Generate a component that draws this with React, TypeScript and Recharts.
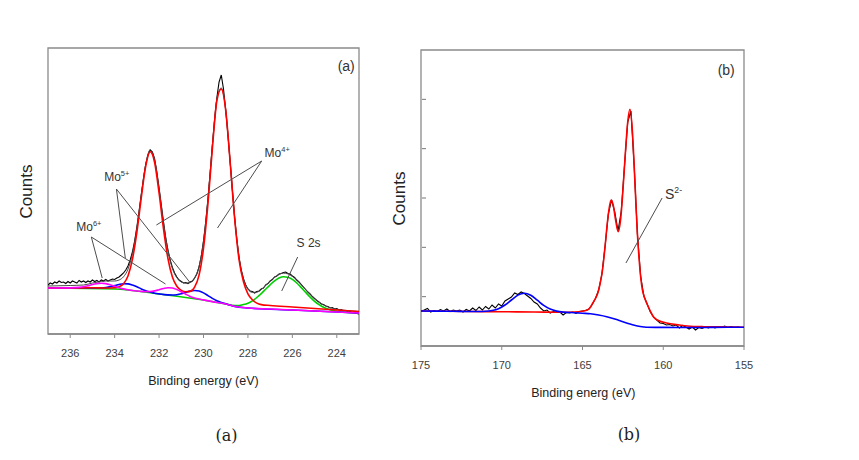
import React from 'react';
import { LineChart, Line, XAxis, YAxis, ReferenceArea, ReferenceLine, ReferenceDot } from 'recharts';

// ---------- Panel (a): Mo 3d region ----------
const xTicksA = [224, 226, 228, 230, 232, 234, 236];

const rawAEnergy = [
  237.0, 236.9, 236.8, 236.7, 236.6, 236.5, 236.4, 236.3, 236.2, 236.1,
  236.0, 235.9, 235.8, 235.7, 235.6, 235.5, 235.4, 235.3, 235.2, 235.1,
  235.0, 234.9, 234.8, 234.7, 234.6, 234.5, 234.4, 234.3, 234.2, 234.1,
  234.0, 233.9, 233.8, 233.7, 233.6, 233.5, 233.4, 233.3, 233.2, 233.1,
  233.0, 232.9, 232.8, 232.7, 232.6, 232.5, 232.4, 232.3, 232.2, 232.1,
  232.0, 231.9, 231.8, 231.7, 231.6, 231.5, 231.4, 231.3, 231.2, 231.1,
  231.0, 230.9, 230.8, 230.7, 230.6, 230.5, 230.4, 230.3, 230.2, 230.1,
  230.0, 229.9, 229.8, 229.7, 229.6, 229.5, 229.4, 229.3, 229.2, 229.1,
  229.0, 228.9, 228.8, 228.7, 228.6, 228.5, 228.4, 228.3, 228.2, 228.1,
  228.0, 227.9, 227.8, 227.7, 227.6, 227.5, 227.4, 227.3, 227.2, 227.1,
  227.0, 226.9, 226.8, 226.7, 226.6, 226.5, 226.4, 226.3, 226.2, 226.1,
  226.0, 225.9, 225.8, 225.7, 225.6, 225.5, 225.4, 225.3, 225.2, 225.1,
  225.0, 224.9, 224.8, 224.7, 224.6, 224.5, 224.4, 224.3, 224.2, 224.1,
  224.0, 223.9, 223.8, 223.7, 223.6, 223.5, 223.4, 223.3, 223.2, 223.1,
  223.0,
];
const rawACounts = [
  49, 51, 50, 52, 51, 53, 51.5, 52, 50.5, 52.5,
  51, 53, 52, 51, 53.5, 52, 53, 51.5, 53, 52,
  54, 52.5, 53.5, 52, 54, 53, 54.5, 53, 54, 55,
  54.5, 56, 57, 59, 61, 64, 68, 74, 82, 93,
  107, 123, 140, 156, 170, 179, 184, 182, 175, 162,
  146, 129, 112, 96, 84, 74, 66.5, 61, 57, 54,
  52.5, 51, 51.5, 50.5, 52, 53, 56, 60, 67, 78,
  93, 112, 135, 161, 189, 214, 236, 252, 259, 245,
  224, 199, 172, 144, 117, 95, 77, 64, 55, 49,
  45, 43, 42.5, 41, 42.5, 43, 45, 46, 49, 50.5,
  53, 54.5, 57, 58, 60, 60.5, 61.5, 62, 60.5, 60,
  58, 56.5, 54, 52, 49.5, 47, 44.5, 42, 40, 37.5,
  35.5, 33.5, 32, 30, 29.5, 28, 27.5, 26, 26.5, 25,
  25.5, 24, 24.5, 23, 23.5, 22, 22.5, 21.5, 21, 20.5,
  20,
];

const fitAEnergy = [
  237, 236, 235.4, 235.0, 234.6, 234.4, 234.2, 234.0, 233.8, 233.6,
  233.4, 233.2, 233.0, 232.8, 232.6, 232.4, 232.2, 232.0, 231.8, 231.6,
  231.4, 231.2, 231.0, 230.8, 230.6, 230.4, 230.2, 230.0, 229.8, 229.6,
  229.4, 229.2, 229.0, 228.8, 228.6, 228.4, 228.2, 228.0, 227.8, 227.6,
  227.4, 227.2, 227.0, 226.8, 226.6, 226.4, 226.2, 226.0, 225.8, 225.6,
  225.4, 225.2, 225.0, 224.8, 224.6, 224.4, 224.2, 224.0, 223.6, 223.0,
];
const fitACounts = [
  48, 48.5, 49, 51, 52.5, 53, 53, 53, 54, 57.2,
  64.8, 80.2, 105.8, 139.2, 169.9, 184.2, 174.1, 145.5, 111.3, 83.3,
  65.6, 56.3, 52, 50.8, 51.5, 56, 67.6, 92.8, 135.3, 189,
  234.7, 246, 224, 171.9, 117, 76.1, 55.2, 45, 41.6, 41.8,
  44.4, 48.6, 52.7, 56.6, 59.6, 60.8, 60.1, 57.6, 53.9, 49.2,
  44.3, 39.5, 35.2, 31.8, 29.1, 27.1, 25.7, 24.7, 23.6, 22.5,
];

const mo4Energy = [
  237, 236, 235, 234.5, 234.0, 233.8, 233.6, 233.4, 233.2, 233.0,
  232.8, 232.6, 232.4, 232.2, 232.0, 231.8, 231.6, 231.4, 231.2, 231.0,
  230.8, 230.6, 230.4, 230.2, 230.0, 229.8, 229.6, 229.4, 229.2, 229.0,
  228.8, 228.6, 228.4, 228.2, 228.0, 227.8, 227.6, 227.4, 227.0, 226.0,
  225.0, 224.0, 223.0,
];
const mo4Counts = [
  46, 46, 46.2, 46, 46.3, 47.3, 50.3, 58.1, 74.6, 101.6,
  136.3, 167.8, 182.2, 171.4, 141.1, 105.1, 75.5, 57, 47.7, 43.6,
  42.2, 42.6, 46.8, 58.9, 85.6, 130.1, 185.8, 233, 245, 223.7,
  171.8, 116.1, 74.4, 52.2, 40.2, 34.2, 30.9, 29.4, 28.5, 27,
  25.5, 24, 22.5,
];

const mo5Energy = [
  237, 235, 234.5, 234.2, 234.0, 233.8, 233.6, 233.4, 233.2, 233.0,
  232.8, 232.6, 232.4, 232.2, 232.0, 231.6, 231.4, 231.2, 231.0, 230.8,
  230.6, 230.4, 230.2, 230.0, 229.8, 229.6, 229.4, 229.2, 229.0, 228.8,
  228.6, 228.0, 226, 224, 223,
];
const mo5Counts = [
  46, 46, 46.2, 47.3, 48.4, 49.5, 50.2, 50.1, 48.9, 47.2,
  45.1, 43.3, 41.9, 40.8, 40.1, 39.1, 39, 39.3, 40.2, 41.6,
  42.9, 43.5, 42.9, 41.1, 38.4, 35.6, 33.3, 31.6, 30.3, 28.9,
  27.6, 26, 24, 22, 21,
];

const mo6Energy = [
  237, 236, 235.6, 235.4, 235.2, 235.0, 234.8, 234.6, 234.4, 234.2,
  234.0, 233.8, 233.6, 233.4, 233.2, 233.0, 232.8, 232.6, 232.4, 232.2,
  232.0, 231.8, 231.6, 231.4, 231.2, 231.0, 230.8, 230.6, 230.4, 230.2,
  230.0, 229.6, 229.0, 228.5, 228.0, 227.0, 226.0, 225.0, 224.0, 223.0,
];
const mo6Counts = [
  46, 46.1, 46.6, 47.2, 48.2, 49.5, 50.4, 50.8, 50.4, 49.3,
  47.8, 46.3, 45.1, 44.2, 43.5, 43, 42.6, 42.4, 42.5, 43.1,
  44.3, 45.5, 46.3, 46, 44.5, 42.2, 39.8, 37.6, 36.1, 35,
  34.1, 32.4, 30, 27.2, 26, 25, 24, 23, 22, 21,
];

const s2sEnergy = [
  237, 234, 232, 230, 229, 228.6, 228.4, 228.2, 228.0, 227.8,
  227.6, 227.4, 227.2, 227.0, 226.8, 226.6, 226.4, 226.2, 226.0, 225.8,
  225.6, 225.4, 225.2, 225.0, 224.8, 224.6, 224.4, 224.2, 224.0, 223.6,
  223.0,
];
const s2sCounts = [
  46, 45, 40, 34, 30, 28.5, 28.5, 29.4, 30.8, 33.2,
  36.5, 40.4, 44.8, 49.2, 53.1, 56, 57.3, 56.8, 54.6, 51,
  46.4, 41.6, 36.9, 32.7, 29.4, 26.8, 24.9, 23.6, 22.7, 21.8,
  21,
];

// ---------- Panel (b): S 2p region ----------
const xTicksB = [155, 160, 165, 170, 175];
const yTicksB = [49.33, 98.67, 148, 197.33, 246.67];

const rawBEnergy = [
  175.0, 174.8, 174.6, 174.4, 174.2, 174.0, 173.8, 173.6, 173.4, 173.2,
  173.0, 172.8, 172.6, 172.4, 172.2, 172.0, 171.8, 171.6, 171.4, 171.2,
  171.0, 170.8, 170.6, 170.4, 170.2, 170.0, 169.8, 169.6, 169.4, 169.2,
  169.0, 168.8, 168.6, 168.4, 168.2, 168.0, 167.8, 167.6, 167.4, 167.2,
  167.0, 166.8, 166.6, 166.4, 166.2, 166.0, 165.8, 165.6, 165.4, 165.2,
  165.0, 164.8, 164.6, 164.4, 164.2, 164.0, 163.8, 163.6, 163.4, 163.2,
  163.0, 162.8, 162.6, 162.4, 162.2, 162.0, 161.8, 161.6, 161.4, 161.2,
  161.0, 160.8, 160.6, 160.4, 160.2, 160.0, 159.8, 159.6, 159.4, 159.2,
  159.0, 158.8, 158.6, 158.4, 158.2, 158.0, 157.8, 157.6, 157.4, 157.2,
  157.0, 156.8, 156.6, 156.4, 156.2, 156.0, 155.8, 155.6, 155.4, 155.2,
  155.0,
];
const rawBCounts = [
  35, 36, 37.5, 34, 35.5, 34.5, 36.5, 35, 37, 34.5,
  36, 35, 36, 34, 36.5, 35, 38, 35.5, 39, 36,
  39.5, 37, 41, 38, 42, 40, 45, 47, 49, 53,
  51.5, 54, 52.5, 50, 47.5, 44, 42, 38, 35, 36,
  33, 34.5, 33.5, 34, 31, 33.5, 33, 34, 32.5, 34.5,
  35, 35.5, 37, 41.5, 47.5, 56, 72, 100, 132, 146,
  134, 115, 135, 180, 224, 235, 180, 112, 70, 50,
  42, 34, 29, 26, 23, 22.5, 21, 21.5, 20, 21,
  18, 20.5, 19, 17, 19, 16, 18.5, 17.5, 19, 18,
  19.5, 18, 19, 18.5, 20, 18.5, 19.5, 18.5, 19, 18.5,
  18.5,
];

const s2pEnergy = [
  175, 172, 170, 168, 166.4, 165.5, 165.0, 164.7, 164.5, 164.36,
  164.2, 164.05, 163.9, 163.76, 163.6, 163.45, 163.3, 163.22, 163.1, 162.95,
  162.79, 162.65, 162.5, 162.35, 162.2, 162.06, 161.9, 161.8, 161.7, 161.6,
  161.5, 161.44, 161.3, 161.15, 161.0, 160.8, 160.6, 160.3, 159.8, 159.0,
  158.5, 157.5, 156, 155,
];
const s2pCounts = [
  35, 34.5, 34.3, 34, 33.8, 34, 34.8, 36, 39, 43,
  47.5, 53, 63, 76, 100, 125, 142, 146, 141, 126,
  114.3, 125, 155, 192, 224, 236.7, 212, 180, 145, 112,
  88, 76, 57, 48, 42, 35, 29, 25.5, 23, 21,
  20, 19.3, 19, 18.8,
];

const sulfEnergy = [
  175, 173, 172, 171.5, 171, 170.6, 170.2, 169.8, 169.4, 169.0,
  168.6, 168.2, 167.8, 167.4, 167.0, 166.6, 166.2, 165.5, 165, 164.5,
  164, 163.5, 163, 162.5, 162, 161.6, 161.2, 161, 160.5, 160,
  158, 157, 155,
];
const sulfCounts = [
  35, 34.7, 34.5, 34.5, 34.7, 35.5, 37.3, 41, 46, 50.9,
  52.8, 50.7, 45.8, 40.6, 36.9, 34.9, 33.9, 33.3, 32.8, 32.3,
  31, 29.3, 27, 24.3, 21.8, 20, 19, 18.7, 18.6, 18.6,
  18.5, 18.6, 18.8,
];

// ---------- Annotations (data coordinates) ----------
const labelsA = [
  { text: 'Mo', sup: '4+', e: 227.25, c: 177 },
  { text: 'Mo', sup: '5+', e: 234.47, c: 153 },
  { text: 'Mo', sup: '6+', e: 235.73, c: 103 },
  { text: 'S 2s', sup: '', e: 225.81, c: 87 },
];
const leadersA = [
  [227.38, 173, 232.12, 109],
  [227.38, 173, 229.37, 106],
  [233.92, 145, 233.52, 76],
  [233.92, 145, 230.59, 51],
  [235.05, 97, 234.56, 56],
  [235.05, 97, 231.71, 50],
  [225.76, 77, 226.48, 43],
];
const labelsB = [{ text: 'S', sup: '2-', e: 159.89, c: 147 }];
const leadersB = [[160.07, 148, 162.31, 83]];

const zip = (e: number[], v: number[]) => e.map((x, i) => ({ e: x, v: v[i] }));

const rawA = zip(rawAEnergy, rawACounts);
const fitA = zip(fitAEnergy, fitACounts);
const mo4 = zip(mo4Energy, mo4Counts);
const mo5 = zip(mo5Energy, mo5Counts);
const mo6 = zip(mo6Energy, mo6Counts);
const s2s = zip(s2sEnergy, s2sCounts);
const rawB = zip(rawBEnergy, rawBCounts);
const s2p = zip(s2pEnergy, s2pCounts);
const sulf = zip(sulfEnergy, sulfCounts);

const SANS = '"Liberation Sans", Arial, sans-serif';
const NARROW = '"Liberation Sans Narrow", "Liberation Sans", Arial, sans-serif';
const FRAME = '#8a8a8a';
const TEXT = '#333333';

const makeLabel = (text: string, sup: string, size: number, anchor: string, family: string = NARROW) => (p: any) => (
  <text x={p.cx} y={p.cy} fill={TEXT} fontFamily={family} fontSize={size} textAnchor={anchor as any}>
    {text}
    {sup ? (
      <tspan dy={-size * 0.45} fontSize={size * 0.62}>
        {sup}
      </tspan>
    ) : null}
  </text>
);

// inward tick mark for the left axis of panel (b)
const InwardTick = (p: any) => (
  <line x1={p.x + 1} y1={p.y} x2={p.x + 5} y2={p.y} stroke="#777" strokeWidth={1} />
);

const lineProps = { dot: false, activeDot: false, isAnimationActive: false } as const;

function PanelA() {
  return (
    <LineChart width={380} height={460} margin={{ top: 48, right: 21, bottom: 96, left: 48 }}>
      <XAxis
        dataKey="e"
        type="number"
        domain={[223, 237]}
        reversed
        ticks={xTicksA}
        allowDataOverflow
        height={30}
        tickSize={4}
        tickMargin={11}
        axisLine={{ stroke: FRAME, strokeWidth: 1.3 }}
        tickLine={{ stroke: FRAME }}
        tick={{ fill: '#404040', fontSize: 11, fontFamily: SANS }}
      />
      <YAxis hide type="number" domain={[0, 286]} allowDataOverflow />
      <ReferenceArea x1={223} x2={237} y1={0} y2={286} fill="none" stroke={FRAME} strokeWidth={1.3} ifOverflow="visible" />
      <Line data={rawA} dataKey="v" type="linear" stroke="#000" strokeWidth={1.1} {...lineProps} />
      <Line data={fitA} dataKey="v" type="monotone" stroke="#4a4a4a" strokeWidth={1} {...lineProps} />
      <Line data={s2s} dataKey="v" type="monotone" stroke="#00d000" strokeWidth={1.6} {...lineProps} />
      <Line data={mo5} dataKey="v" type="monotone" stroke="#0000ff" strokeWidth={1.6} {...lineProps} />
      <Line data={mo4} dataKey="v" type="monotone" stroke="#ff0000" strokeWidth={1.6} {...lineProps} />
      <Line data={mo6} dataKey="v" type="monotone" stroke="#ff00ff" strokeWidth={1.6} {...lineProps} />
      {leadersA.map((l, i) => (
        <ReferenceLine
          key={'la' + i}
          segment={[{ x: l[0], y: l[1] }, { x: l[2], y: l[3] }]}
          stroke="#4d4d4d"
          strokeWidth={1}
          ifOverflow="visible"
        />
      ))}
      {labelsA.map((t, i) => (
        <ReferenceDot
          key={'ta' + i}
          x={t.e}
          y={t.c}
          r={0}
          ifOverflow="visible"
          shape={makeLabel(t.text, t.sup, 12, 'start')}
        />
      ))}
      <ReferenceDot x={223.19} y={263} r={0} ifOverflow="visible" shape={makeLabel('(a)', '', 14, 'end', SANS)} />
    </LineChart>
  );
}

function PanelB() {
  return (
    <LineChart width={479} height={460} margin={{ top: 50, right: 115, bottom: 84, left: 41 }}>
      <XAxis
        dataKey="e"
        type="number"
        domain={[155, 175]}
        reversed
        ticks={xTicksB}
        allowDataOverflow
        height={30}
        tickSize={4}
        tickMargin={11}
        axisLine={{ stroke: FRAME, strokeWidth: 1.3 }}
        tickLine={{ stroke: FRAME }}
        tick={{ fill: '#404040', fontSize: 11, fontFamily: SANS }}
      />
      <YAxis
        type="number"
        domain={[0, 296]}
        ticks={yTicksB}
        allowDataOverflow
        width={1}
        mirror
        tick={InwardTick}
        tickSize={0}
        tickMargin={0}
        axisLine={false}
        tickLine={false}
      />
      <ReferenceArea x1={155} x2={175} y1={0} y2={296} fill="none" stroke={FRAME} strokeWidth={1.3} ifOverflow="visible" />
      <Line data={rawB} dataKey="v" type="linear" stroke="#000" strokeWidth={1.1} {...lineProps} />
      <Line data={s2p} dataKey="v" type="monotone" stroke="#ff0000" strokeWidth={1.6} {...lineProps} />
      <Line data={sulf} dataKey="v" type="monotone" stroke="#0000ff" strokeWidth={1.6} {...lineProps} />
      {leadersB.map((l, i) => (
        <ReferenceLine
          key={'lb' + i}
          segment={[{ x: l[0], y: l[1] }, { x: l[2], y: l[3] }]}
          stroke="#4d4d4d"
          strokeWidth={1}
          ifOverflow="visible"
        />
      ))}
      {labelsB.map((t, i) => (
        <ReferenceDot
          key={'tb' + i}
          x={t.e}
          y={t.c}
          r={0}
          ifOverflow="visible"
          shape={makeLabel(t.text, t.sup, 14, 'start')}
        />
      ))}
      <ReferenceDot x={155.57} y={271} r={0} ifOverflow="visible" shape={makeLabel('(b)', '', 14, 'end', SANS)} />
    </LineChart>
  );
}

export default function App() {
  return (
    <div style={{ position: 'absolute', left: 0, top: 0, width: 859, height: 460, background: '#fff' }}>
      <div style={{ position: 'absolute', left: 0, top: 0 }}>
        <PanelA />
      </div>
      <div style={{ position: 'absolute', left: 380, top: 0 }}>
        <PanelB />
      </div>
      <svg width={859} height={460} style={{ position: 'absolute', left: 0, top: 0, pointerEvents: 'none' }}>
        <text x={26.5} y={191.5} transform="rotate(-90 26.5 191.5)" textAnchor="middle" dominantBaseline="central" fontFamily={SANS} fontSize={17} fill="#222">
          Counts
        </text>
        <text x={399} y={198.5} transform="rotate(-90 399 198.5)" textAnchor="middle" dominantBaseline="central" fontFamily={SANS} fontSize={17} fill="#222">
          Counts
        </text>
        <text x={203.5} y={381} textAnchor="middle" dominantBaseline="central" fontFamily={SANS} fontSize={12.5} fill="#222">
          Binding energy (eV)
        </text>
        <text x={583.3} y={393} textAnchor="middle" dominantBaseline="central" fontFamily={SANS} fontSize={12.5} fill="#222">
          Binding energ (eV)
        </text>
        <text x={226.5} y={435.5} textAnchor="middle" dominantBaseline="central" fontFamily='"DejaVu Serif", "Liberation Serif", serif' fontSize={16} fill="#222">
          (a)
        </text>
        <text x={629} y={434} textAnchor="middle" dominantBaseline="central" fontFamily='"DejaVu Serif", "Liberation Serif", serif' fontSize={16} fill="#222">
          (b)
        </text>
      </svg>
    </div>
  );
}
